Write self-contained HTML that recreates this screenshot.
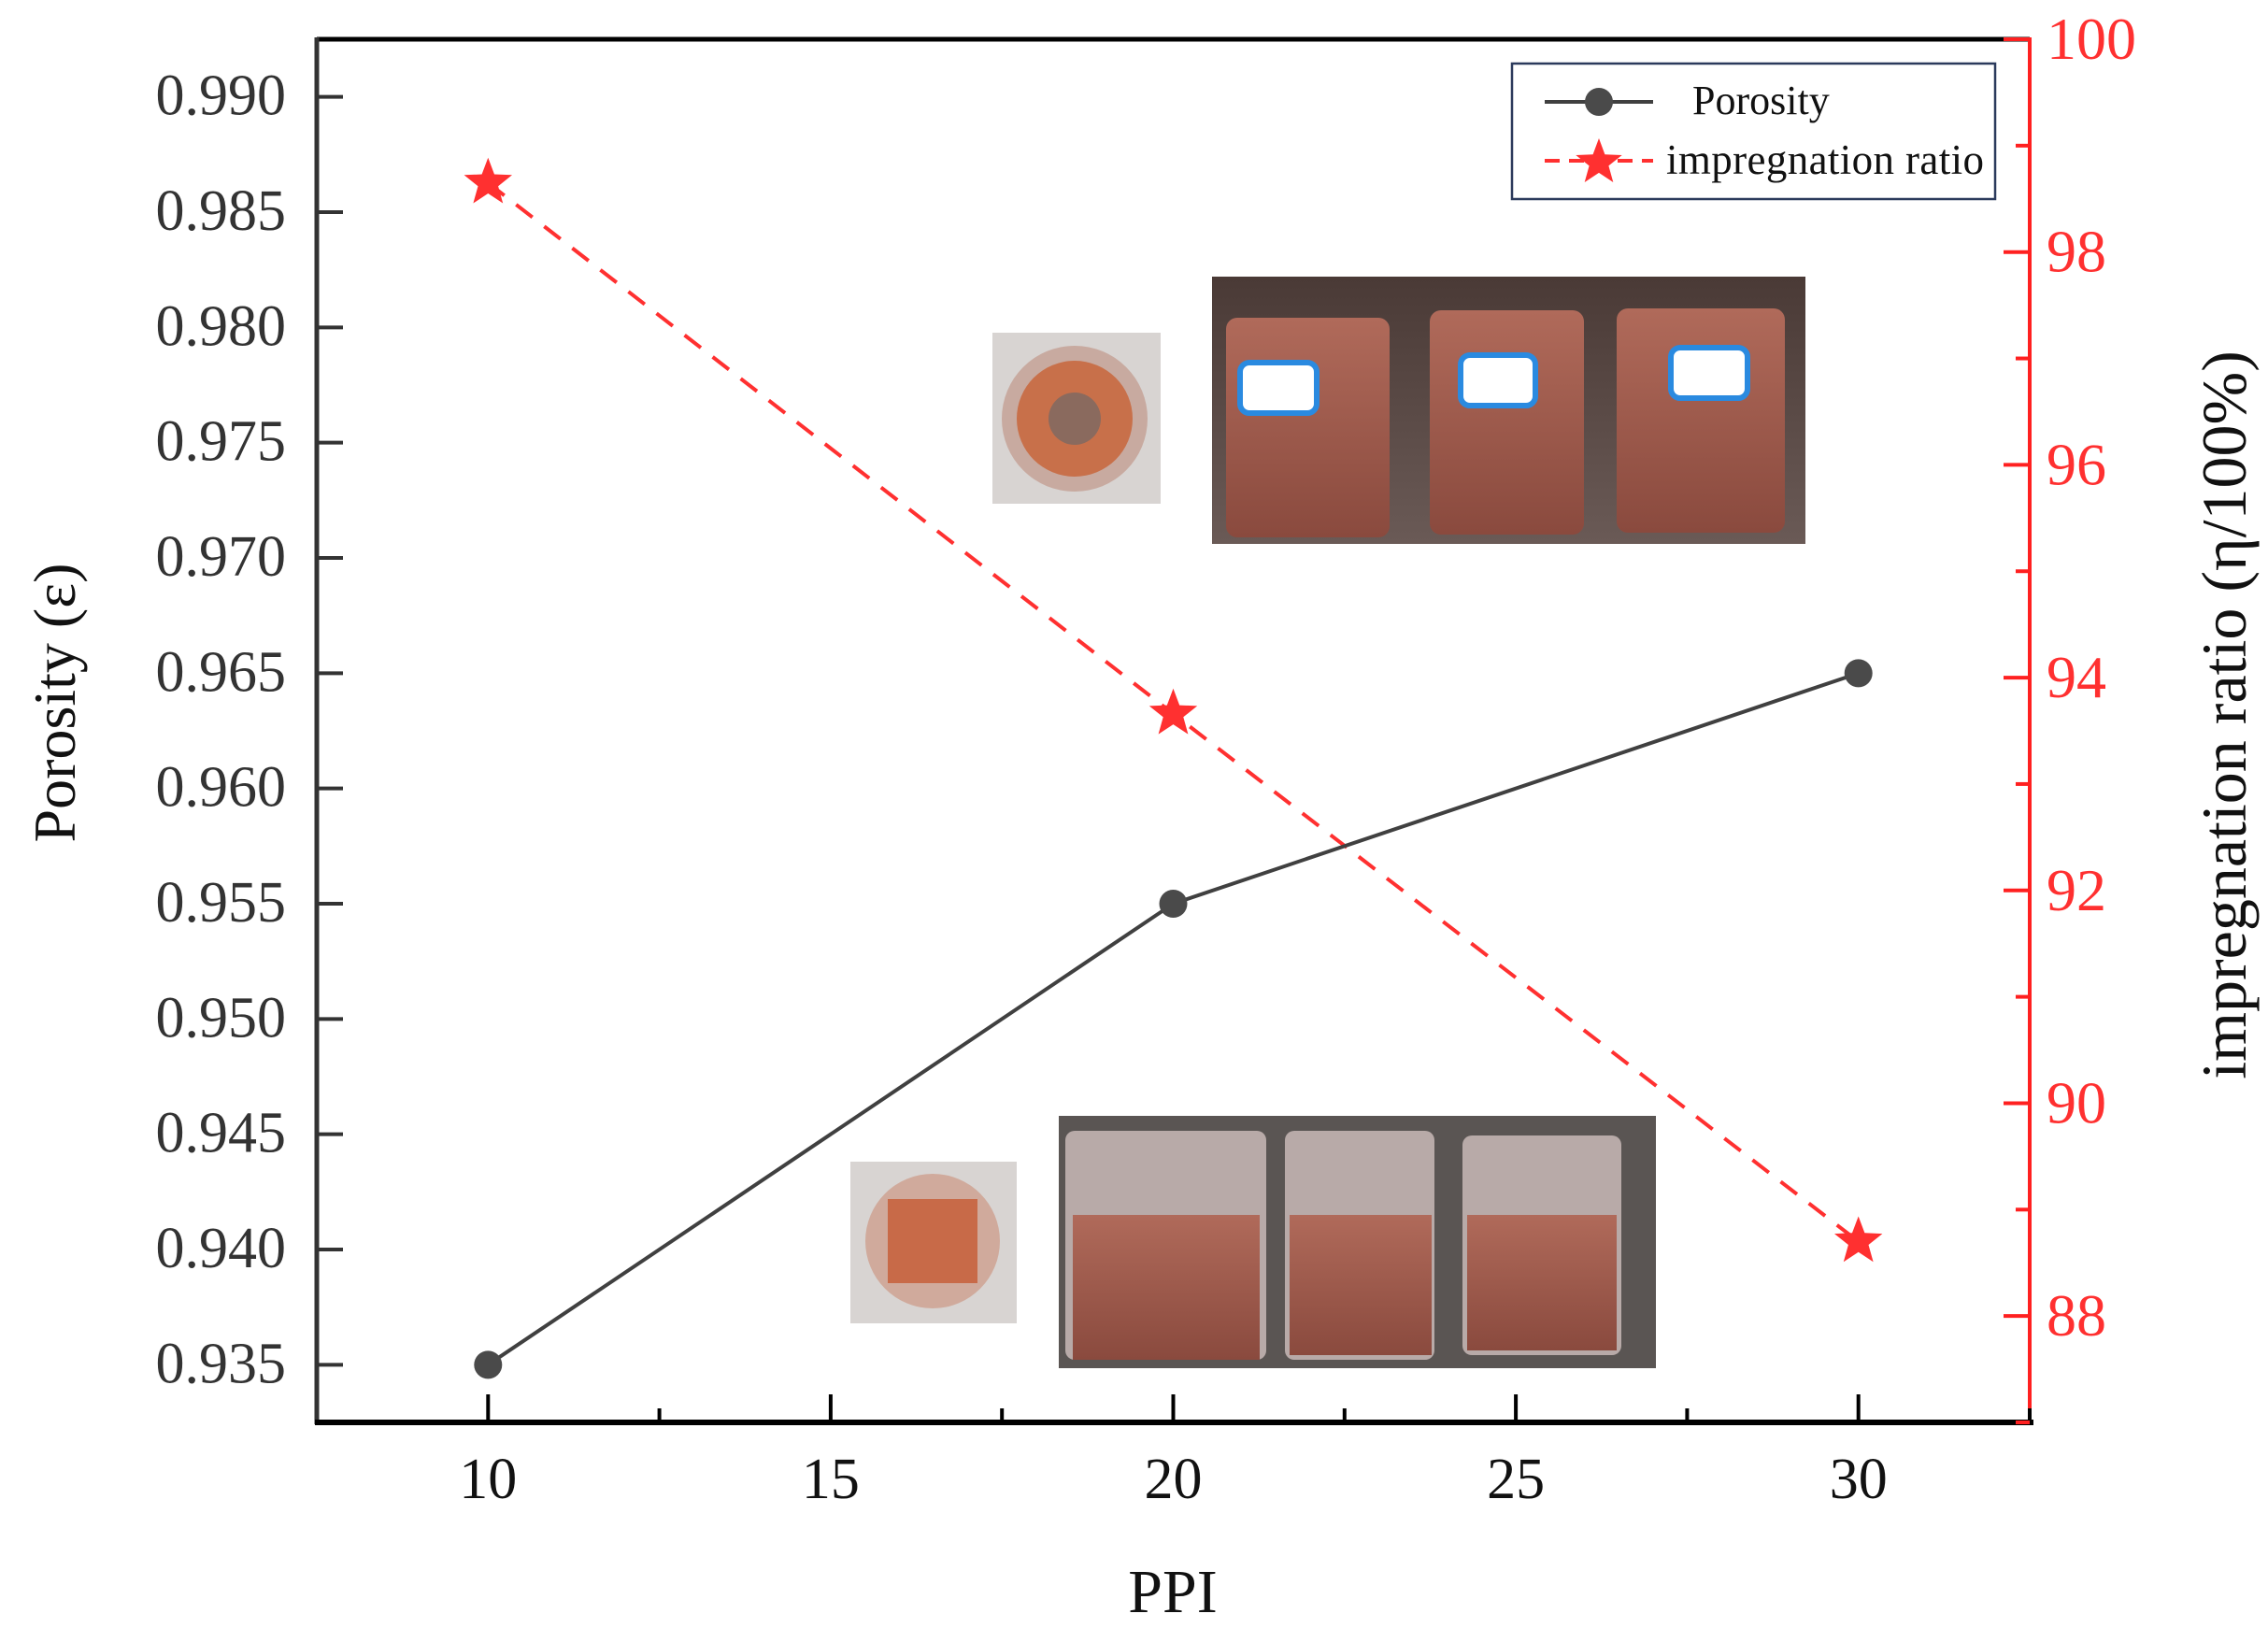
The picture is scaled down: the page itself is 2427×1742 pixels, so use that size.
<!DOCTYPE html>
<html><head><meta charset="utf-8"><style>
html,body{margin:0;padding:0;background:#fff}
svg{display:block}
text{font-family:"Liberation Serif",serif}
</style></head><body>
<svg id="chart" width="2427" height="1742" viewBox="0 0 2427 1742" xmlns="http://www.w3.org/2000/svg">
<defs>
<linearGradient id="cu" x1="0" y1="0" x2="0" y2="1"><stop offset="0" stop-color="#b06a5a"/><stop offset="1" stop-color="#8a4a3e"/></linearGradient>
<linearGradient id="bg1" x1="0" y1="0" x2="0" y2="1"><stop offset="0" stop-color="#4a3a36"/><stop offset="1" stop-color="#6a5a56"/></linearGradient>
</defs>
<g id="photos">
  <g>
    <rect x="1062" y="356" width="180" height="183" fill="#d8d4d2"/>
    <circle cx="1150" cy="448" r="78" fill="#c8aaa0"/>
    <circle cx="1150" cy="448" r="62" fill="#c8704a"/>
    <circle cx="1150" cy="448" r="28" fill="#8a6a5e"/>
  </g>
  <g>
    <rect x="1297" y="296" width="635" height="286" fill="url(#bg1)"/>
    <rect x="1312" y="340" width="175" height="235" rx="12" fill="url(#cu)"/>
    <rect x="1530" y="332" width="165" height="240" rx="12" fill="url(#cu)"/>
    <rect x="1730" y="330" width="180" height="240" rx="12" fill="url(#cu)"/>
    <rect x="1327" y="388" width="82" height="54" rx="10" fill="#fff" stroke="#2a8ae0" stroke-width="6"/>
    <rect x="1563" y="380" width="80" height="54" rx="10" fill="#fff" stroke="#2a8ae0" stroke-width="6"/>
    <rect x="1788" y="372" width="82" height="54" rx="10" fill="#fff" stroke="#2a8ae0" stroke-width="6"/>
  </g>
  <g>
    <rect x="910" y="1243" width="178" height="173" fill="#d8d4d2"/>
    <circle cx="998" cy="1328" r="72" fill="#d0aa9c"/>
    <rect x="950" y="1283" width="96" height="90" fill="#c86a48"/>
  </g>
  <g>
    <rect x="1133" y="1194" width="639" height="270" fill="#5a5553"/>
    <rect x="1140" y="1210" width="215" height="245" rx="10" fill="#b8aaa8"/>
    <rect x="1375" y="1210" width="160" height="245" rx="10" fill="#b8aaa8"/>
    <rect x="1565" y="1215" width="170" height="235" rx="10" fill="#b8aaa8"/>
    <rect x="1148" y="1300" width="200" height="155" fill="url(#cu)"/>
    <rect x="1380" y="1300" width="152" height="150" fill="url(#cu)"/>
    <rect x="1570" y="1300" width="160" height="145" fill="url(#cu)"/>
  </g>
</g>
<g id="axes"></g>
<g id="series"></g>
<g id="legend">
  <rect x="1618" y="68" width="517" height="145" fill="#fff" stroke="#2b3a5c" stroke-width="2.5"/>
  <g>
    <line x1="1653" y1="109" x2="1769" y2="109" stroke="#404040" stroke-width="4"/>
    <circle cx="1711" cy="109" r="15" fill="#4a4a4a"/>
    <text x="1811" y="122" font-size="44" fill="#111">Porosity</text>
  </g>
  <g>
    <line x1="1653" y1="172" x2="1769" y2="172" stroke="#ff3030" stroke-width="4" stroke-dasharray="16,10"/>
    <path id="legstar" fill="#ff3030" d=""/>
    <text x="1783" y="186" font-size="45" textLength="340" fill="#111">impregnation ratio</text>
  </g>
</g>
</svg>
<script>
const categories=[10,20,30];
const porosity=[0.935,0.955,0.965];
const impregnation=[98.65,93.66,88.7];
const xTicks=[10,15,20,25,30];
const yLeftTicks=["0.935","0.940","0.945","0.950","0.955","0.960","0.965","0.970","0.975","0.980","0.985","0.990"];
const yRightTicks=[88,90,92,94,96,98,100];

const L=339,R=2172,T=42,B=1522;
const X=v=>L+(v-7.5)/25*(R-L);
const YL=v=>B-(v-0.9325)/0.06*(B-T);
const YR=v=>B-(v-87)/13*(B-T);
const NS="http://www.w3.org/2000/svg";
function mk(tag,attrs,parent){const e=document.createElementNS(NS,tag);for(const k in attrs)e.setAttribute(k,attrs[k]);parent.appendChild(e);return e;}
function star(cx,cy,r){let p=[];for(let i=0;i<10;i++){const a=-Math.PI/2+i*Math.PI/5;const rr=i%2?r*0.42:r;p.push((cx+rr*Math.cos(a)).toFixed(1)+","+(cy+rr*Math.sin(a)).toFixed(1));}return "M"+p.join("L")+"Z";}
document.getElementById('legstar').setAttribute('d',star(1711,174,26));

const ax=document.getElementById('axes');
let e;
e=mk('line',{x1:L,y1:T,x2:R,y2:T,stroke:'#000','stroke-width':5},ax);


e=mk('line',{x1:L,y1:T-2,x2:L,y2:B+2,stroke:'#333','stroke-width':5},ax);


e=mk('line',{x1:L-2,y1:B,x2:R+4,y2:B,stroke:'#000','stroke-width':6},ax);


e=mk('line',{x1:R,y1:T-2,x2:R,y2:B,stroke:'#ff2020','stroke-width':4},ax);



xTicks.forEach(v=>{
  e=mk('line',{x1:X(v),y1:B,x2:X(v),y2:B-30,stroke:'#000','stroke-width':4},ax);
  
  
  e=mk('line',{x1:X(v+2.5),y1:B,x2:X(v+2.5),y2:B-15,stroke:'#000','stroke-width':4},ax);
  
  
  const t=mk('text',{x:X(v),y:1603,'font-size':62,'text-anchor':'middle',fill:'#111'},ax);t.textContent=v;
  
  
});
yLeftTicks.forEach(s=>{
  const v=parseFloat(s);
  e=mk('line',{x1:L,y1:YL(v),x2:L+28,y2:YL(v),stroke:'#333','stroke-width':4},ax);
  
  
  const t=mk('text',{x:306,y:YL(v)+19,'font-size':62,'text-anchor':'end',fill:'#333'},ax);t.textContent=s;
  
  
});
yRightTicks.forEach(v=>{
  e=mk('line',{x1:R,y1:YR(v),x2:R-28,y2:YR(v),stroke:'#ff2020','stroke-width':4},ax);
  
  
  if(v>87){e=mk('line',{x1:R,y1:YR(v-1),x2:R-15,y2:YR(v-1),stroke:'#ff2020','stroke-width':4},ax);
  
  }
  const t=mk('text',{x:2190,y:YR(v)+21,'font-size':64,fill:'#ff3030'},ax);t.textContent=v;
  
  
});
let t=mk('text',{x:0,y:0,'font-size':64,'text-anchor':'middle',fill:'#111',transform:'translate(80,752) rotate(-90)'},ax);t.textContent='Porosity (ε)';


t=mk('text',{x:0,y:0,'font-size':68,'text-anchor':'middle',fill:'#111',transform:'translate(2403,765) rotate(-90)'},ax);t.textContent='impregnation ratio (η/100%)';


t=mk('text',{x:1255,y:1725,'font-size':66,'text-anchor':'middle',fill:'#111'},ax);t.textContent='PPI';



const sr=document.getElementById('series');
e=mk('polyline',{points:categories.map((c,i)=>X(c)+','+YR(impregnation[i])).join(' '),fill:'none',stroke:'#ff3030','stroke-width':4,'stroke-dasharray':'22,16'},sr);


e=mk('polyline',{points:categories.map((c,i)=>X(c)+','+YL(porosity[i])).join(' '),fill:'none',stroke:'#404040','stroke-width':4},sr);


categories.forEach((c,i)=>{
  e=mk('circle',{cx:X(c),cy:YL(porosity[i]),r:15,fill:'#4a4a4a'},sr);
  
  
  e=mk('path',{d:star(X(c),YR(impregnation[i]),27),fill:'#ff3030'},sr);
  
  
});
</script>
</body></html>
